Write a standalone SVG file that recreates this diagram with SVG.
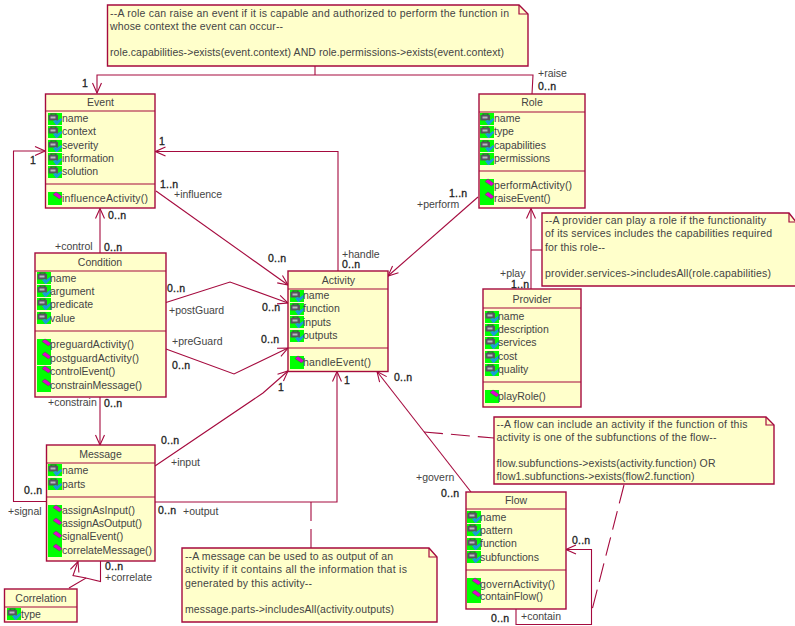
<svg xmlns="http://www.w3.org/2000/svg" width="795" height="626" viewBox="0 0 795 626">
<style>
text{font-family:"Liberation Sans",Arial,sans-serif;font-size:10.5px;fill:#444}
.t{text-anchor:middle}
.m{fill:#222;font-size:10.5px;letter-spacing:.2px;stroke:#222;stroke-width:.3px}
.box{fill:#ffffcb;stroke:#a50a3e;stroke-width:1.4}
.sep{fill:none;stroke:#a50a3e;stroke-width:1.2}
.c{fill:none;stroke:#a50a3e;stroke-width:1.1}
.d{fill:none;stroke:#a50a3e;stroke-width:1.1;stroke-dasharray:19 8}
.note{fill:#ffffcb;stroke:#a50a3e;stroke-width:1.4}
</style>
<defs>
<marker id="open" viewBox="0 0 12 12" refX="11" refY="6" markerWidth="12" markerHeight="12" markerUnits="userSpaceOnUse" orient="auto"><path d="M1 1.500L11 6L1 10.500" fill="none" stroke="#a50a3e" stroke-width="1.1"/></marker>
<g id="attr"><rect x="0" y="0" width="14" height="12" fill="#00ff00"/><path d="M3 2V1h5v1" fill="none" stroke="#444" stroke-width="1.200"/><rect x=".5" y="2" width="9.500" height="5.500" fill="#55555f"/><rect x="2.500" y="3.500" width="5" height="2" fill="#b8b8c0"/><path d="M5 8l3-1 1 1 4-3 1 1v1l-5 5H8z" fill="#1a9bd8"/></g>
<g id="op"><rect x="0" y="0" width="14" height="13" fill="#00ff00"/><path d="M5 2.500L8 0L14 4.500L11.500 7z" fill="#e000d0" stroke="#555" stroke-width=".6"/></g>
</defs>
<g id="connectors">
<polyline class="c" points="532,94 533,75 97,75 97,93" marker-end="url(#open)"/>
<line class="c" x1="315" y1="66" x2="315" y2="75"/>
<polyline class="c" points="338,271 338,151.500 155.500,151.500" marker-end="url(#open)"/>
<line class="c" x1="156" y1="191" x2="288" y2="285" marker-end="url(#open)"/>
<line class="c" x1="478" y1="197" x2="388" y2="276" marker-end="url(#open)"/>
<line class="c" x1="100" y1="253" x2="100" y2="208.500" marker-end="url(#open)"/>
<line class="c" x1="100" y1="397" x2="100" y2="445" marker-end="url(#open)"/>
<polyline class="c" points="166,302.500 230,282 288,303" marker-end="url(#open)"/>
<polyline class="c" points="166,349 234,374 288,348" marker-end="url(#open)"/>
<polyline class="c" points="155,466 263,393 288,371" marker-end="url(#open)"/>
<polyline class="c" points="155,502 337,502 337,371.500" marker-end="url(#open)"/>
<polyline class="c" points="46,501.500 13.500,501.500 13.500,151 45,151" marker-end="url(#open)"/>
<polyline class="c" points="69,588 86,578 100.500,581.500 100.500,561"/>
<polyline class="c" points="86,578 73,575.500 78,561.500" marker-end="url(#open)"/>
<line class="c" x1="531" y1="289" x2="531" y2="208.500" marker-end="url(#open)"/>
<line class="c" x1="531" y1="250" x2="542" y2="250"/>
<line class="c" x1="471" y1="492" x2="377" y2="371.500" marker-end="url(#open)"/>
<line class="d" x1="424" y1="432" x2="494" y2="438"/>
<line class="d" x1="624" y1="485" x2="592" y2="610"/>
<line class="d" x1="311" y1="502" x2="311" y2="548"/>
<polyline class="c" points="516,609 516,624.500 591.500,624.500 591.500,549.500 566,549.500" marker-end="url(#open)"/>
</g>
<g id="note-event">
<path class="note" d="M107.500 5H519L528 14V66H107.500Z"/><path class="sep" d="M519 5V14H528"/>
<text x="110" y="17" textLength="399" lengthAdjust="spacing">--A role can raise an event if it is capable and authorized to perform the function in</text>
<text x="110" y="30" textLength="173">whose context the event can occur--</text>
<text x="110" y="56" textLength="394">role.capabilities-&gt;exists(event.context) AND role.permissions-&gt;exists(event.context)</text>
</g>
<g id="note-provider">
<path class="note" d="M542 213H789L796 222V286H542Z"/><path class="sep" d="M789 213V222H796"/>
<text x="545" y="224" textLength="221">--A provider can play a role if the functionality</text>
<text x="545" y="237" textLength="227">of its services includes the capabilities required</text>
<text x="545" y="251" textLength="60">for this role--</text>
<text x="545" y="277" textLength="226">provider.services-&gt;includesAll(role.capabilities)</text>
</g>
<g id="note-flow">
<path class="note" d="M494 417H766L774 425V484H494Z"/><path class="sep" d="M766 417V425H774"/>
<text x="496.500" y="428" textLength="251">--A flow can include an activity if the function of this</text>
<text x="496.500" y="441" textLength="220">activity is one of the subfunctions of the flow--</text>
<text x="496.500" y="467" textLength="219">flow.subfunctions-&gt;exists(activity.function) OR</text>
<text x="496.500" y="480" textLength="198">flow1.subfunctions-&gt;exists(flow2.function)</text>
</g>
<g id="note-message">
<path class="note" d="M182 548H429L437 557V622H182Z"/><path class="sep" d="M429 548V557H437"/>
<text x="185" y="560" textLength="208">--A message can be used to as output of an</text>
<text x="185" y="573" textLength="222">activity if it contains all the information that is</text>
<text x="185" y="587" textLength="127">generated by this activity--</text>
<text x="185" y="613" textLength="209">message.parts-&gt;includesAll(activity.outputs)</text>
</g>
<g id="event">
<rect class="box" x="45.500" y="94" width="109.500" height="114"/><path class="sep" d="M45.500 111H155M45.500 184H155"/>
<text class="t" x="100.500" y="106">Event</text>
<use href="#attr" x="48" y="113"/><text x="62" y="122">name</text>
<use href="#attr" x="48" y="126"/><text x="62" y="135">context</text>
<use href="#attr" x="48" y="140"/><text x="62" y="149">severity</text>
<use href="#attr" x="48" y="153"/><text x="62" y="162">information</text>
<use href="#attr" x="48" y="166"/><text x="62" y="175">solution</text>
<use href="#op" x="48" y="192"/><text x="62" y="202" textLength="86">influenceActivity()</text>
</g>
<g id="role">
<rect class="box" x="479" y="94" width="106" height="114"/><path class="sep" d="M479 112H585M479 171H585"/>
<text class="t" x="532" y="106">Role</text>
<use href="#attr" x="480" y="113"/><text x="494" y="122">name</text>
<use href="#attr" x="480" y="126"/><text x="494" y="135">type</text>
<use href="#attr" x="480" y="140"/><text x="494" y="149">capabilities</text>
<use href="#attr" x="480" y="153"/><text x="494" y="162">permissions</text>
<use href="#op" x="480" y="179"/><text x="494" y="189" textLength="78">performActivity()</text>
<use href="#op" x="480" y="192"/><text x="494" y="202">raiseEvent()</text>
</g>
<g id="condition">
<rect class="box" x="35" y="253" width="131" height="144"/><path class="sep" d="M35 271H166M35 331H166"/>
<text class="t" x="100" y="266">Condition</text>
<use href="#attr" x="37" y="272"/><text x="50" y="282">name</text>
<use href="#attr" x="37" y="285"/><text x="50" y="295">argument</text>
<use href="#attr" x="37" y="298"/><text x="50" y="308">predicate</text>
<use href="#attr" x="37" y="312"/><text x="50" y="322">value</text>
<use href="#op" x="37" y="339"/><text x="50" y="348" textLength="84">preguardActivity()</text>
<use href="#op" x="37" y="352"/><text x="50" y="362" textLength="89">postguardActivity()</text>
<use href="#op" x="37" y="366"/><text x="50" y="375">controlEvent()</text>
<use href="#op" x="37" y="379"/><text x="50" y="389" textLength="92">constrainMessage()</text>
</g>
<g id="activity">
<rect class="box" x="288" y="271" width="100" height="100.500"/><path class="sep" d="M288 289H388M288 348H388"/>
<text class="t" x="338.500" y="284">Activity</text>
<use href="#attr" x="290" y="290"/><text x="303" y="299">name</text>
<use href="#attr" x="290" y="303"/><text x="303" y="312">function</text>
<use href="#attr" x="290" y="316"/><text x="303" y="326">inputs</text>
<use href="#attr" x="290" y="330"/><text x="303" y="339">outputs</text>
<use href="#op" x="290" y="356"/><text x="303" y="366" textLength="68">handleEvent()</text>
</g>
<g id="provider">
<rect class="box" x="483" y="289" width="98" height="118"/><path class="sep" d="M483 308H581M483 382H581"/>
<text class="t" x="532" y="303">Provider</text>
<use href="#attr" x="485" y="311"/><text x="498" y="320">name</text>
<use href="#attr" x="485" y="324"/><text x="498" y="333">description</text>
<use href="#attr" x="485" y="337"/><text x="498" y="346">services</text>
<use href="#attr" x="485" y="351"/><text x="498" y="360">cost</text>
<use href="#attr" x="485" y="364"/><text x="498" y="373">quality</text>
<use href="#op" x="485" y="390"/><text x="498" y="400">playRole()</text>
</g>
<g id="message">
<rect class="box" x="46.500" y="445" width="108.500" height="116"/><path class="sep" d="M46.500 463H155M46.500 497H155"/>
<text class="t" x="100.500" y="458">Message</text>
<use href="#attr" x="48" y="464"/><text x="62" y="474">name</text>
<use href="#attr" x="48" y="478"/><text x="62" y="488">parts</text>
<use href="#op" x="48" y="505"/><text x="62" y="514">assignAsInput()</text>
<use href="#op" x="48" y="518"/><text x="62" y="527" textLength="80">assignAsOutput()</text>
<use href="#op" x="48" y="531"/><text x="62" y="540">signalEvent()</text>
<use href="#op" x="48" y="544"/><text x="62" y="554" textLength="90">correlateMessage()</text>
</g>
<g id="correlation">
<rect class="box" x="4.500" y="589" width="72.500" height="33"/><path class="sep" d="M4.500 607H77"/>
<text class="t" x="41" y="602">Correlation</text>
<use href="#attr" x="7" y="608"/><text x="21" y="618">type</text>
</g>
<g id="flow">
<rect class="box" x="466" y="492" width="100" height="117"/><path class="sep" d="M466 509H566M466 570H566"/>
<text class="t" x="516" y="504">Flow</text>
<use href="#attr" x="467" y="511"/><text x="480" y="521">name</text>
<use href="#attr" x="467" y="524"/><text x="480" y="534">pattern</text>
<use href="#attr" x="467" y="538"/><text x="480" y="547">function</text>
<use href="#attr" x="467" y="551"/><text x="480" y="561">subfunctions</text>
<use href="#op" x="467" y="578"/><text x="480" y="588" textLength="75">governActivity()</text>
<use href="#op" x="467" y="590"/><text x="480" y="600">containFlow()</text>
</g>
<g id="labels">
<text class="m" x="82" y="87">1</text>
<text class="m" x="159" y="145">1</text>
<text class="m" x="30" y="164">1</text>
<text class="m" x="160" y="188">1..n</text>
<text x="174" y="198">+influence</text>
<text class="m" x="108" y="219">0..n</text>
<text x="55" y="250">+control</text>
<text class="m" x="104" y="251">0..n</text>
<text class="m" x="268" y="262">0..n</text>
<text class="m" x="167" y="292">0..n</text>
<text x="169" y="314">+postGuard</text>
<text class="m" x="262" y="311">0..n</text>
<text x="172" y="345">+preGuard</text>
<text class="m" x="261" y="343">0..n</text>
<text class="m" x="172" y="369">0..n</text>
<text class="m" x="278" y="391">1</text>
<text x="48" y="406">+constrain</text>
<text class="m" x="104" y="407">0..n</text>
<text class="m" x="161" y="444">0..n</text>
<text x="171" y="466">+input</text>
<text class="m" x="24" y="494">0..n</text>
<text x="8" y="515">+signal</text>
<text class="m" x="158" y="514">0..n</text>
<text x="183" y="515">+output</text>
<text class="m" x="105" y="570">0..n</text>
<text x="105" y="581">+correlate</text>
<text x="342" y="258">+handle</text>
<text class="m" x="342" y="268">0..n</text>
<text class="m" x="344" y="384">1</text>
<text class="m" x="394" y="381">0..n</text>
<text x="416" y="481">+govern</text>
<text class="m" x="441" y="497">0..n</text>
<text class="m" x="572" y="544">0..n</text>
<text class="m" x="491" y="622">0..n</text>
<text x="521" y="620">+contain</text>
<text x="538" y="77">+raise</text>
<text class="m" x="538" y="90">0..n</text>
<text class="m" x="449" y="197">1..n</text>
<text x="417" y="208">+perform</text>
<text x="500" y="277">+play</text>
<text class="m" x="511" y="288">1..n</text>
</g>
</svg>
